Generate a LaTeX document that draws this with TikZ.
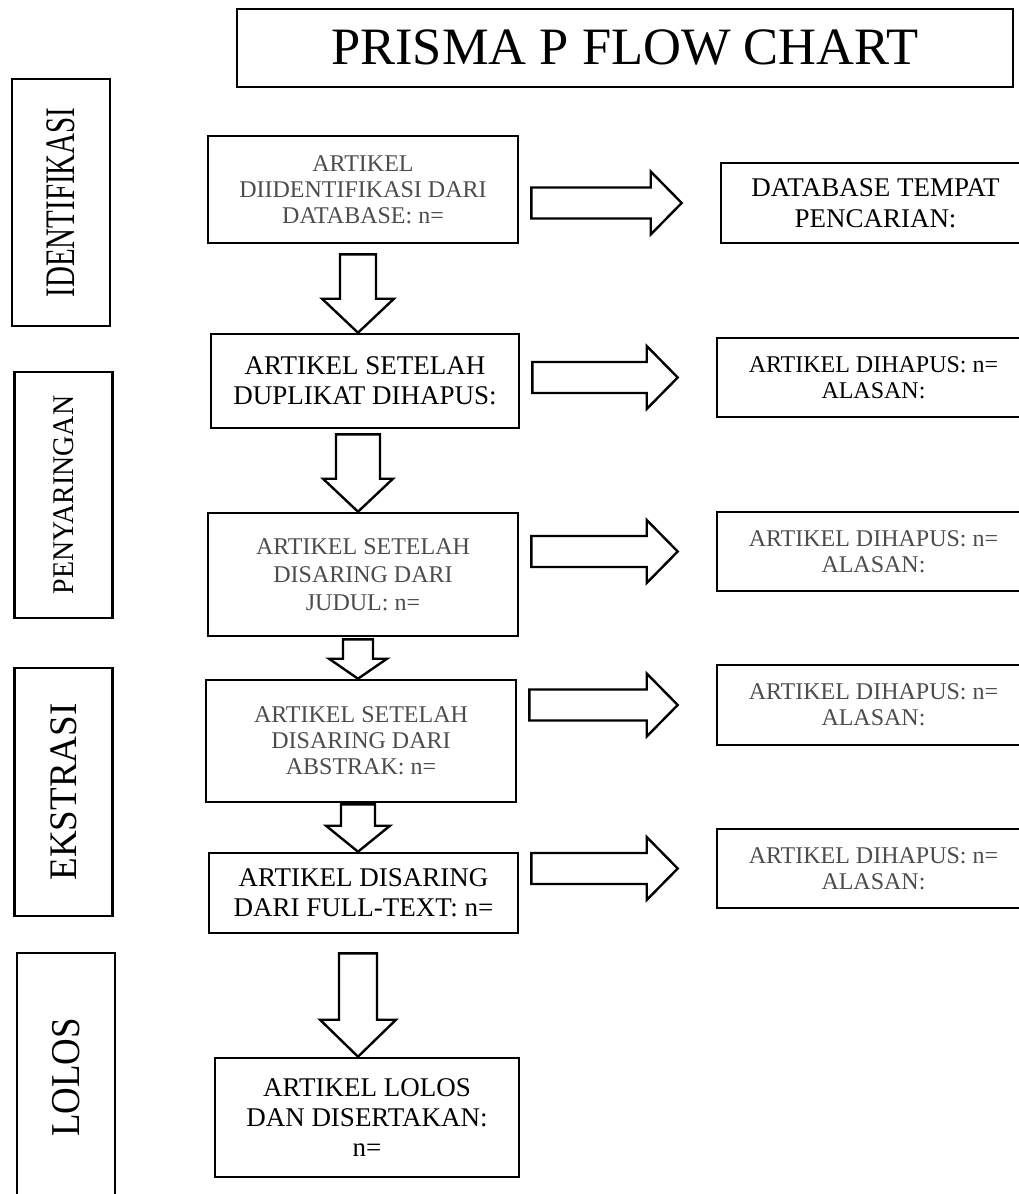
\documentclass[tikz,border=0pt]{standalone}
\usepackage{graphicx}
\usepackage{xcolor}
\usepackage{fontspec}
\setmainfont{Liberation Serif}
\usetikzlibrary{positioning,calc}

\definecolor{textgrey}{gray}{0.3}
\newcommand{\smalltxt}{\fontsize{24}{26}\selectfont}
\newcommand{\bigtxt}{\fontsize{27}{30}\selectfont}

% hollow block arrow going down from node #1 to node #2
% #3 gap below #1, #4 half shaft, #5 half head, #6 head length
\newcommand{\blockdown}[6]{%
  \draw[blockarrow] ($(col |- #1.south)+(-#4,#3)$) -- ($(col |- #2.north)+(-#4,-#6)$)
    -- ($(col |- #2.north)+(-#5,-#6)$) -- (col |- #2.north)
    -- ($(col |- #2.north)+(#5,-#6)$) -- ($(col |- #2.north)+(#4,-#6)$)
    -- ($(col |- #1.south)+(#4,#3)$) -- cycle;}

% hollow block arrow going right from node #1 towards node #2
\newcommand{\blockright}[2]{%
  \draw[blockarrow] ($(#1.east |- #2.west)+(12,-15.5)$) -- ($(#2.west)+(-69,-15.5)$)
    -- ($(#2.west)+(-69,-31.5)$) -- ($(#2.west)+(-38,0)$)
    -- ($(#2.west)+(-69,31.5)$) -- ($(#2.west)+(-69,15.5)$)
    -- ($(#1.east |- #2.west)+(12,15.5)$) -- cycle;}

\begin{document}
\begin{tikzpicture}[x=1pt,y=-1pt,
  box/.style={draw, line width=2.6pt, rectangle, inner sep=0pt, align=center, font=\smalltxt},
  stage/.style={box, rotate=90, minimum height=98},
  blockarrow/.style={draw, line width=2.4pt, fill=white, line join=miter}]
\useasboundingbox (0,0) rectangle (1019,1194);
\clip (0,0) rectangle (1019,1194);
\coordinate (col) at (358,0);

% Title
\node[box, minimum width=776, minimum height=78, font=\fontsize{52.5}{60}\selectfont] (title) at (625,48) {PRISMA P FLOW CHART};

% Stages
\node[stage, minimum width=247] (ident) at (61,202.5) {\fontsize{42}{42}\selectfont\scalebox{0.69}[1]{IDENTIFIKASI}};
\node[stage, minimum width=246] (peny) at (63.5,495) {\fontsize{30}{30}\selectfont\scalebox{0.93}[1]{PENYARINGAN}};
\node[stage, minimum width=248] (ekst) at (63.5,792) {\fontsize{39}{39}\selectfont\scalebox{0.95}[1]{EKSTRASI}};
\node[stage, minimum width=249] (lolos) at (66,1077.5) {\fontsize{41}{41}\selectfont\scalebox{0.9}[1]{LOLOS}};

% Main column
\node[box, minimum width=310, minimum height=107, text=textgrey] (b1) at (363,189.5) {ARTIKEL\\DIIDENTIFIKASI DARI\\DATABASE: n=};
\node[box, minimum width=308, minimum height=94, font=\bigtxt] (b2) at (365,381) {ARTIKEL SETELAH\\DUPLIKAT DIHAPUS:};
\node[box, minimum width=310, minimum height=123, text=textgrey, font=\fontsize{24}{28}\selectfont] (b3) at (363,574.5) {ARTIKEL SETELAH\\DISARING DARI\\JUDUL: n=};
\node[box, minimum width=310, minimum height=122, text=textgrey] (b4) at (361,741) {ARTIKEL SETELAH\\DISARING DARI\\ABSTRAK: n=};
\node[box, minimum width=309, minimum height=80, font=\bigtxt] (b5) at (363.5,893) {ARTIKEL DISARING\\DARI FULL-TEXT: n=};
\node[box, minimum width=304, minimum height=119, font=\bigtxt] (b6) at (367,1117.5) {ARTIKEL LOLOS\\DAN DISERTAKAN:\\n=};

% Removed / sources
\node[box, minimum width=309, minimum height=80, font=\fontsize{27}{31}\selectfont] (r1) at (875.5,203) {DATABASE TEMPAT\\PENCARIAN:};
\node[box, minimum width=313, minimum height=79] (r2) at (873.5,377.5) {ARTIKEL DIHAPUS: n=\\ALASAN:};
\node[box, minimum width=313, minimum height=79, text=textgrey] (r3) at (873.5,551.5) {ARTIKEL DIHAPUS: n=\\ALASAN:};
\node[box, minimum width=313, minimum height=80, text=textgrey] (r4) at (873.5,705) {ARTIKEL DIHAPUS: n=\\ALASAN:};
\node[box, minimum width=313, minimum height=79, text=textgrey] (r5) at (873.5,868.5) {ARTIKEL DIHAPUS: n=\\ALASAN:};

% Down arrows
\blockdown{b1}{b2}{10}{18}{36}{34}
\blockdown{b2}{b3}{5}{22}{35}{33}
\blockdown{b3}{b4}{2}{15}{29}{20}
\blockdown{b4}{b5}{1}{17}{32}{26}
\blockdown{b5}{b6}{19}{19}{38}{37}

% Side arrows
\blockright{b1}{r1}
\blockright{b2}{r2}
\blockright{b3}{r3}
\blockright{b4}{r4}
\blockright{b5}{r5}

\end{tikzpicture}
\end{document}
